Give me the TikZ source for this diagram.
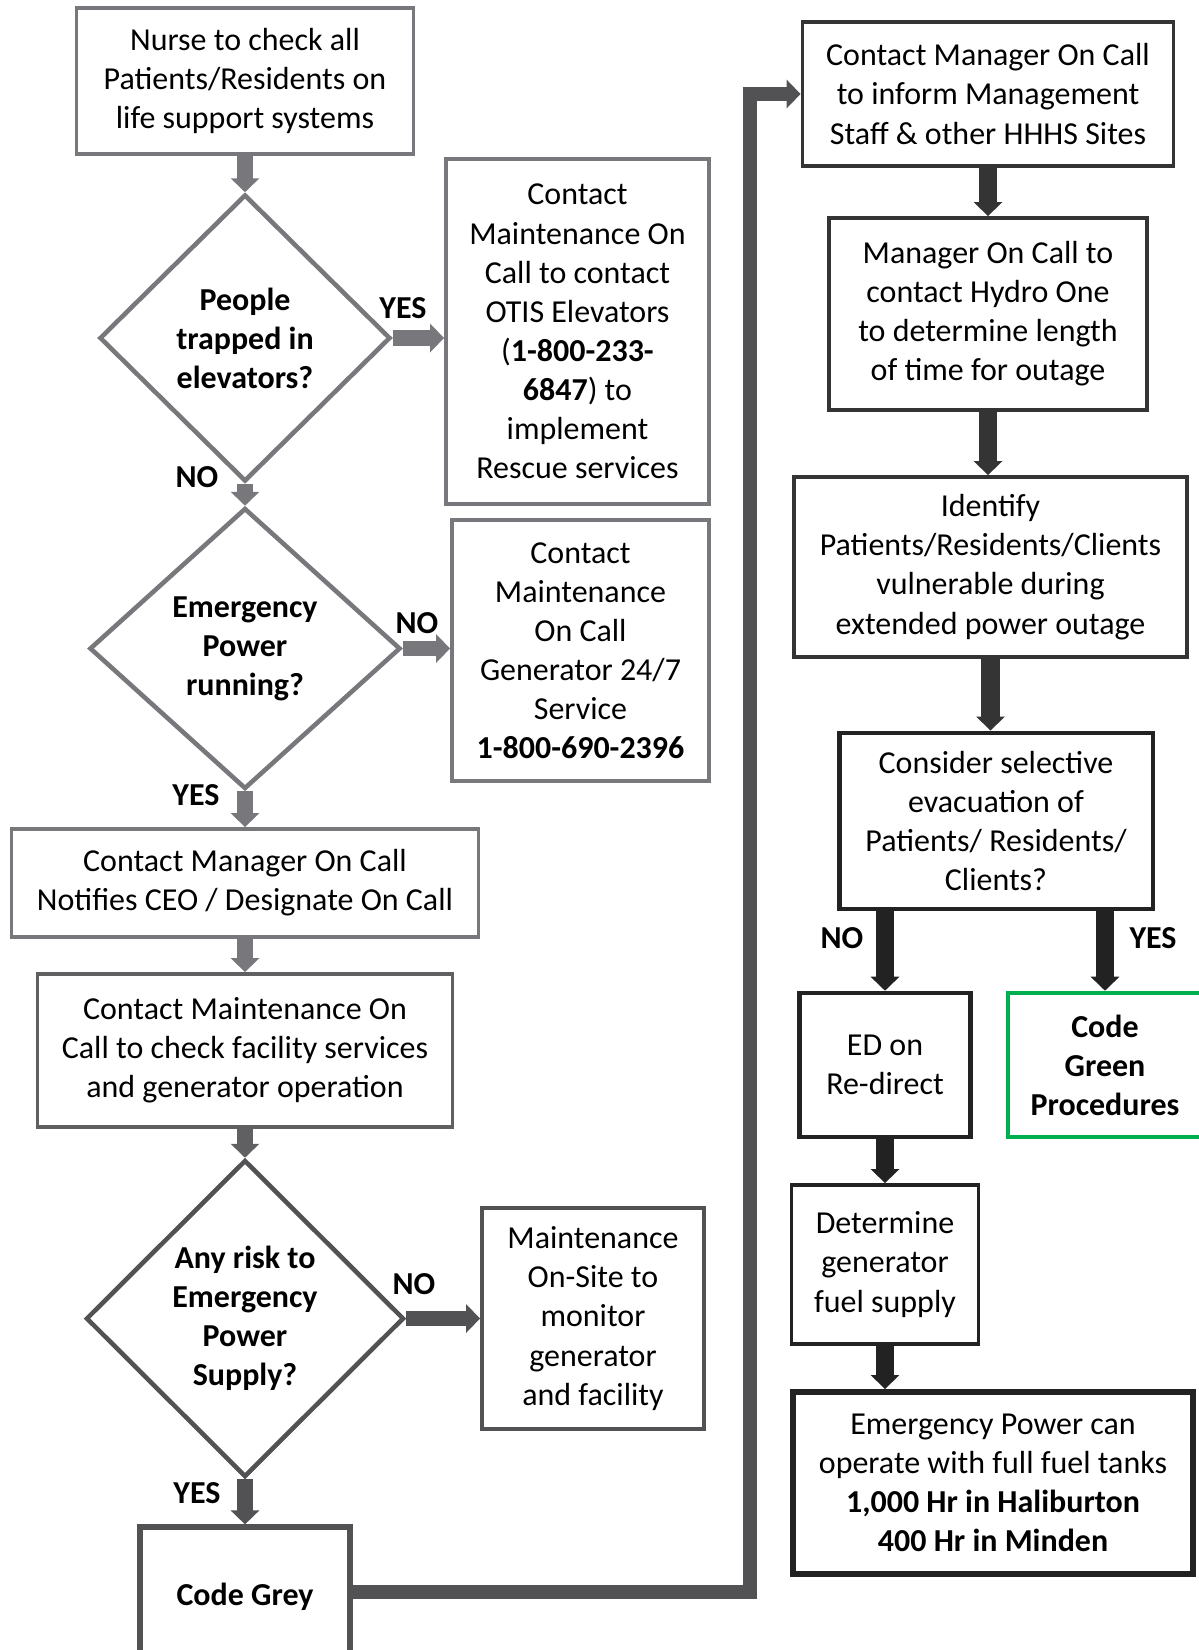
\documentclass[tikz,border=0pt]{standalone}
\usepackage{fontspec}
\setmainfont{Carlito}
\usepackage{xcolor}
\usepackage{tikz}
\usetikzlibrary{positioning, shapes.geometric, arrows.meta}
\definecolor{greyLt}{RGB}{120,120,124}
\definecolor{greyMd}{RGB}{96,96,99}
\definecolor{greyDk}{RGB}{82,82,84}
\definecolor{inkA}{RGB}{52,52,52}
\definecolor{inkB}{RGB}{34,34,34}
\definecolor{codegreen}{RGB}{0,176,80}
\newcommand{\txtsize}{\fontsize{18.2}{22.25}\selectfont}

\begin{document}
\begin{tikzpicture}[x=0.02cm, y=-0.02cm]
						\tikzstyle{box}=[rectangle,draw=greyLt,line width=2.2pt,fill=white,align=center,inner sep=0pt,font=\txtsize,execute at begin node={\rule{0pt}{18.5pt}}]
						\tikzstyle{ask}=[diamond,draw=greyLt,line width=2.6pt,fill=white,align=center,inner sep=0pt,font=\txtsize\bfseries,execute at begin node={\rule{0pt}{18.5pt}}]
						\tikzstyle{flow}=[line width=9pt,-{Triangle[width=0.56cm,length=0.28cm]}]
						\tikzstyle{lbl}=[font=\txtsize\bfseries,inner sep=0pt]
						\useasboundingbox (0,0) rectangle (1199,1650);
						% left column
						\node[box,minimum width=6.74cm,minimum height=2.92cm](nurse) at (245,81) {Nurse to check all\\Patients/Residents on\\life support systems};
						\node[ask,minimum width=5.82cm,minimum height=5.74cm](trapped) at (245,338) {People\\trapped in\\elevators?};
						\node[box,minimum width=5.26cm,minimum height=6.9cm](otis) at (577.5,331.5) {Contact\\Maintenance On\\Call to contact\\OTIS Elevators\\(\textbf{1-800-233-}\\\textbf{6847}) to\\implement\\Rescue services};
						\node[ask,minimum width=6.22cm,minimum height=5.62cm](running) at (245,648.5) {Emergency\\Power\\running?};
						\node[box,minimum width=5.14cm,minimum height=5.22cm](gen) at (580.5,650.5) {Contact\\Maintenance\\On Call\\Generator 24/7\\Service\\\textbf{1-800-690-2396}};
						\node[box,minimum width=9.34cm,minimum height=2.16cm](ceo) at (245,883) {Contact Manager On Call\\Notifies CEO / Designate On Call};
						\node[box,draw=greyMd,minimum width=8.3cm,minimum height=3.06cm](check) at (245,1050.5) {Contact Maintenance On\\Call to check facility services\\and generator operation};
						\node[ask,draw=greyDk,minimum width=6.36cm,minimum height=6.34cm](risk) at (245,1318.5) {Any risk to\\Emergency\\Power\\Supply?};
						\node[box,draw=greyDk,minimum width=4.44cm,minimum height=4.42cm](onsite) at (593,1318.5) {Maintenance\\On-Site to\\monitor\\generator\\and facility};
						\node[box,draw=greyDk,line width=3pt,minimum width=4.2cm,minimum height=2.6cm,font=\txtsize\bfseries](grey) at (245,1592) {Code Grey};
						% right column
						\node[box,draw=inkA,minimum width=7.42cm,minimum height=2.88cm](manager) at (988,94) {Contact Manager On Call\\to inform Management\\Staff \& other HHHS Sites};
						\node[box,draw=inkA,minimum width=6.36cm,minimum height=3.84cm](hydro) at (988,314) {Manager On Call to\\contact Hydro One\\to determine length\\of time for outage};
						\node[box,draw=inkA,minimum width=7.86cm,minimum height=3.6cm](identify) at (990.5,567) {Identify\\Patients/Residents/Clients\\vulnerable during\\extended power outage};
						\node[box,draw=inkB,line width=2.8pt,minimum width=6.28cm,minimum height=3.52cm](evac) at (996,821) {Consider selective\\evacuation of\\Patients/ Residents/\\Clients?};
						\node[box,draw=inkB,line width=2.6pt,minimum width=3.42cm,minimum height=2.88cm](redirect) at (885,1065) {ED on\\Re-direct};
						\node[box,draw=codegreen,line width=2.6pt,minimum width=3.88cm,minimum height=2.88cm,font=\txtsize\bfseries](green) at (1105,1065) {Code\\Green\\Procedures};
						\node[box,draw=inkB,minimum width=3.74cm,minimum height=3.18cm](fuel) at (885,1264.5) {Determine\\generator\\fuel supply};
						\node[box,draw=inkB,line width=3.4pt,minimum width=8cm,minimum height=3.64cm](tanks) at (993,1483) {Emergency Power can\\operate with full fuel tanks\\\textbf{1,000 Hr in Haliburton}\\\textbf{400 Hr in Minden}};
						% answers
						\node[lbl](yes1) at (403,308) {YES};
						\node[lbl](no1) at (197,477) {NO};
						\node[lbl](no2) at (417,623) {NO};
						\node[lbl](yes2) at (196,795) {YES};
						\node[lbl](no3) at (414,1284) {NO};
						\node[lbl](yes3) at (197,1493) {YES};
						\node[lbl](no4) at (842,938) {NO};
						\node[lbl](yes4) at (1153,938) {YES};
						\coordinate (turn) at (750,0);
						\path[flow]
							(nurse.south) edge[draw=greyLt] (trapped.north)
							(trapped.east) edge[draw=greyLt] (trapped.east -| otis.west)
							(trapped.south) edge[draw=greyLt] (running.north)
							(running.east) edge[draw=greyLt] (running.east -| gen.west)
							(running.south) edge[draw=greyLt] (ceo.north)
							(ceo.south) edge[draw=greyLt] (check.north)
							(check.south) edge[draw=greyMd] (risk.north)
							(risk.east) edge[draw=greyDk] (risk.east -| onsite.west)
							(risk.south) edge[draw=greyDk] (grey.north);
						\path[flow,line width=10.5pt]
							(manager.south) edge[draw=inkA] (manager.south |- hydro.north)
							(hydro.south) edge[draw=inkA] (hydro.south |- identify.north)
							(identify.south) edge[draw=inkA] (identify.south |- evac.north)
							(redirect.north |- evac.south) edge[draw=inkB] (redirect.north)
							(green.north |- evac.south) edge[draw=inkB] (green.north)
							(redirect.south) edge[draw=inkB] (fuel.north)
							(fuel.south) edge[draw=inkB] (fuel.south |- tanks.north);
						\draw[flow,draw=greyDk,line width=8pt,line join=miter] (grey.east) -| (turn |- manager.west) -- (manager.west);
					\end{tikzpicture}
\end{document}
